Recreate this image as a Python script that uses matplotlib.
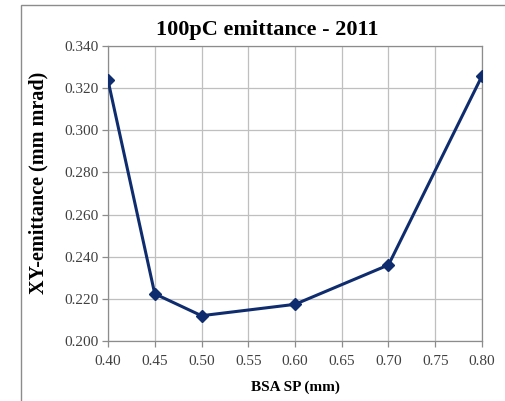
import matplotlib
matplotlib.use("Agg")
import matplotlib.pyplot as plt
from matplotlib.patches import Rectangle

bsa_sp = [0.40, 0.45, 0.50, 0.60, 0.70, 0.80]
emittance = [0.3237, 0.2224, 0.2120, 0.2174, 0.2361, 0.3258]
x_ticks = [0.40, 0.45, 0.50, 0.55, 0.60, 0.65, 0.70, 0.75, 0.80]
y_ticks = [0.200, 0.220, 0.240, 0.260, 0.280, 0.300, 0.320, 0.340]

plt.rcParams['font.family'] = ['Liberation Serif', 'DejaVu Serif']

fig = plt.figure(figsize=(5.06, 4.01), dpi=100)
W, H = 506, 401

# chart frame
fig.patches.append(Rectangle((21 / W, -0.1), 1.2, 1 - 5 / H + 0.1,
                             transform=fig.transFigure, fill=False,
                             edgecolor='#8c8c8c', linewidth=1.0))

ax = fig.add_axes([108 / W, 1 - 341 / H, (482 - 108) / W, (341 - 46) / H])
line_color = '#0f2d6e'
ax.plot(bsa_sp, emittance, color=line_color, linewidth=2.2,
        marker='D', markersize=6, markerfacecolor=line_color,
        markeredgecolor=line_color, zorder=3)

ax.set_xlim(0.40, 0.80)
ax.set_ylim(0.200, 0.340)
ax.set_xticks(x_ticks)
ax.set_xticklabels([f"{v:.2f}" for v in x_ticks])
ax.set_yticks(y_ticks)
ax.set_yticklabels([f"{v:.3f}" for v in y_ticks])
ax.grid(True, color='#bfbfbf', linewidth=0.9)
ax.set_axisbelow(True)
for s in ax.spines.values():
    s.set_color('#8c8c8c')
    s.set_linewidth(0.9)
ax.tick_params(axis='both', labelsize=11, colors='#8c8c8c', labelcolor='#404040',
               length=4, width=0.9, direction='out', pad=3)
ax.tick_params(axis='x', pad=6)

ax.set_xlabel('BSA SP (mm)', fontsize=11, fontweight='bold')
ax.xaxis.set_label_coords(0.5, -(387 - 341) / 295, transform=ax.transAxes)
ax.xaxis.label.set_va('center')
ax.set_ylabel('XY-emittance (mm mrad)', fontsize=14.5, fontweight='bold')
ax.yaxis.set_label_coords((38 - 108) / 374, (341 - 182.5) / 295, transform=ax.transAxes)
ax.yaxis.label.set_va('center')
fig.text(267 / W, 1 - 30 / H, '100pC emittance - 2011', ha='center', va='center',
         fontsize=16, fontweight='bold')

fig.savefig('out.png', dpi=100)
